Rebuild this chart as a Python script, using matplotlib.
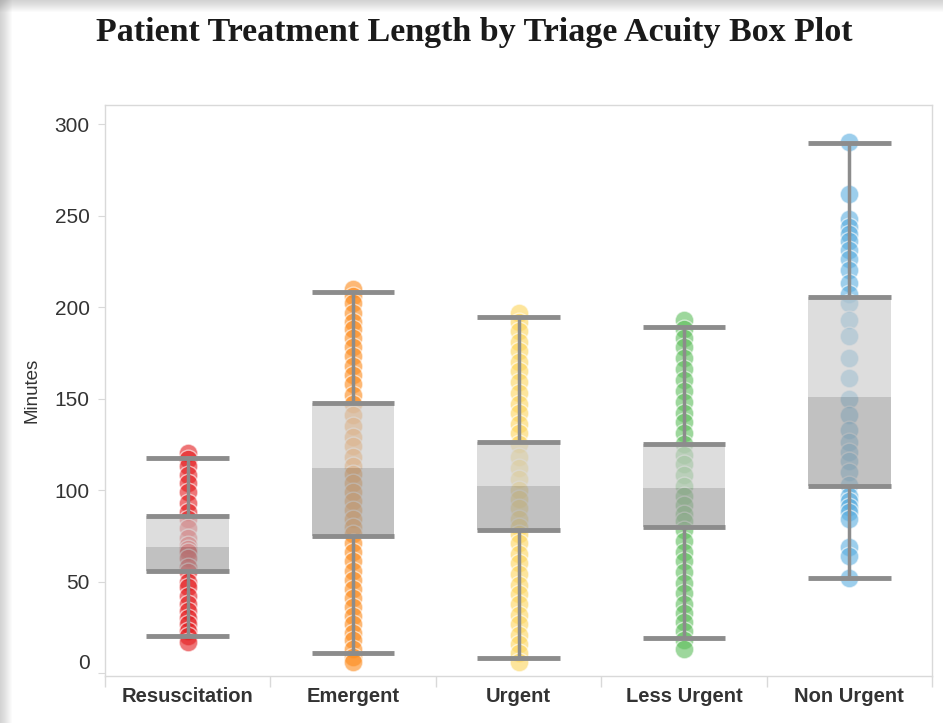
import matplotlib
matplotlib.use("Agg")
import matplotlib.pyplot as plt
from matplotlib.patches import Rectangle

# categories and colours
categories = ["Resuscitation", "Emergent", "Urgent", "Less Urgent", "Non Urgent"]
colors = ["#e41a1c", "#fd8a1a", "#fdd55a", "#5cbd5a", "#5aaee0"]

# individual patient treatment lengths (minutes)
resuscitation = [120, 117, 113, 108, 104, 99, 93, 88, 84, 79, 74, 70, 68, 66, 63,
                 58, 55, 50, 47, 42, 38, 34, 30, 27, 23, 20, 17]
emergent = [210, 206, 202, 197, 192, 188, 183, 178, 173, 168, 163, 158, 152, 147,
            141, 135, 129, 124, 118, 113, 109, 104, 99, 94, 89, 84, 80, 76, 71, 66,
            61, 56, 51, 46, 41, 36, 31, 27, 22, 18, 13, 9, 6]
urgent = [197, 192, 187, 181, 176, 170, 165, 159, 153, 147, 142, 136, 131, 125, 118,
          112, 106, 100, 95, 90, 84, 80, 76, 71, 65, 60, 54, 48, 43, 38, 32, 27, 21,
          16, 11, 6]
less_urgent = [193, 188, 183, 178, 172, 166, 160, 154, 148, 142, 137, 131, 125, 119,
               114, 108, 102, 97, 92, 87, 83, 78, 72, 66, 61, 55, 49, 44, 38, 33, 28,
               23, 18, 13]
non_urgent = [290, 262, 248, 244, 240, 236, 231, 226, 220, 213, 207, 202, 193, 184,
              172, 161, 150, 141, 133, 126, 121, 116, 110, 103, 97, 94, 91, 88, 84,
              69, 64, 52]
values = [resuscitation, emergent, urgent, less_urgent, non_urgent]

# box plot statistics as shown in the chart
whisker_low = [20, 11, 8, 19, 52]
q1 = [56, 75, 78, 80, 102]
median = [69, 112, 102, 101, 151]
q3 = [86, 147.5, 126, 125, 205.5]
whisker_high = [117.5, 208, 194.5, 189, 289.5]

W, H = 943, 723
fig = plt.figure(figsize=(W / 100, H / 100), dpi=100)
fig.patch.set_facecolor("white")

# soft drop shadow on the left and top of the card
for k in range(12):
    a = 0.03
    fig.add_artist(Rectangle((0, 0), (12 - k) / W, 1, transform=fig.transFigure,
                             facecolor="#808080", alpha=a, lw=0, zorder=0))
    fig.add_artist(Rectangle((0, 1 - (12 - k) / H), 1, (12 - k) / H,
                             transform=fig.transFigure, facecolor="#808080",
                             alpha=a, lw=0, zorder=0))

ax = fig.add_axes([105 / W, 1 - 676 / H, (932 - 105) / W, (676 - 105) / H])
ax.set_facecolor("white")

bw = 0.5
for i, cat in enumerate(categories):
    ax.scatter([i] * len(values[i]), values[i], s=180, color=colors[i], alpha=0.6,
               edgecolors="white", linewidths=1.0, zorder=2)
    # box halves
    ax.add_patch(Rectangle((i - bw / 2, median[i]), bw, q3[i] - median[i],
                           facecolor="#cbcbcb", alpha=0.65, lw=0, zorder=3))
    ax.add_patch(Rectangle((i - bw / 2, q1[i]), bw, median[i] - q1[i],
                           facecolor="#a0a0a0", alpha=0.65, lw=0, zorder=3))
    # whiskers
    ax.plot([i, i], [q3[i], whisker_high[i]], color="#8c8c8c", lw=2.5, zorder=4,
            solid_capstyle="butt")
    ax.plot([i, i], [whisker_low[i], q1[i]], color="#8c8c8c", lw=2.5, zorder=4,
            solid_capstyle="butt")
    for yv in [whisker_low[i], q1[i], q3[i], whisker_high[i]]:
        ax.plot([i - bw / 2, i + bw / 2], [yv, yv], color="#8c8c8c", lw=3.5,
                zorder=5, solid_capstyle="butt")

ax.set_xlim(-0.5, 4.5)
ax.set_ylim(-1.6, 310.4)

ax.set_yticks(range(0, 301, 50))
ax.set_xticks(range(len(categories)))
ax.set_xticklabels(categories, fontsize=14.5, color="#333333", fontweight="bold",
                   family="Liberation Sans")
ax.set_xticks([i + 0.5 for i in range(-1, 5)], minor=True)
ax.tick_params(axis="x", which="major", length=0, pad=8)
ax.tick_params(axis="x", which="minor", length=8, color="#d9d9d9", width=1)
ax.tick_params(axis="y", length=5, color="#d9d9d9", labelsize=15,
               labelcolor="#333333", pad=6)
for lab in ax.get_yticklabels():
    lab.set_family("Liberation Sans")
ax.get_yticklabels()[0].set_verticalalignment("bottom")

for sp in ax.spines.values():
    sp.set_color("#d9d9d9")
    sp.set_linewidth(1)

ax.set_ylabel("Minutes", fontsize=13.5, color="#333333", family="Liberation Sans",
              labelpad=10)

fig.text(474 / W, 1 - 33 / H, "Patient Treatment Length by Triage Acuity Box Plot",
         ha="center", va="center", fontsize=24.5, fontweight="bold",
         family="Liberation Serif", color="#1a1a1a")

fig.savefig("out.png", dpi=100)
